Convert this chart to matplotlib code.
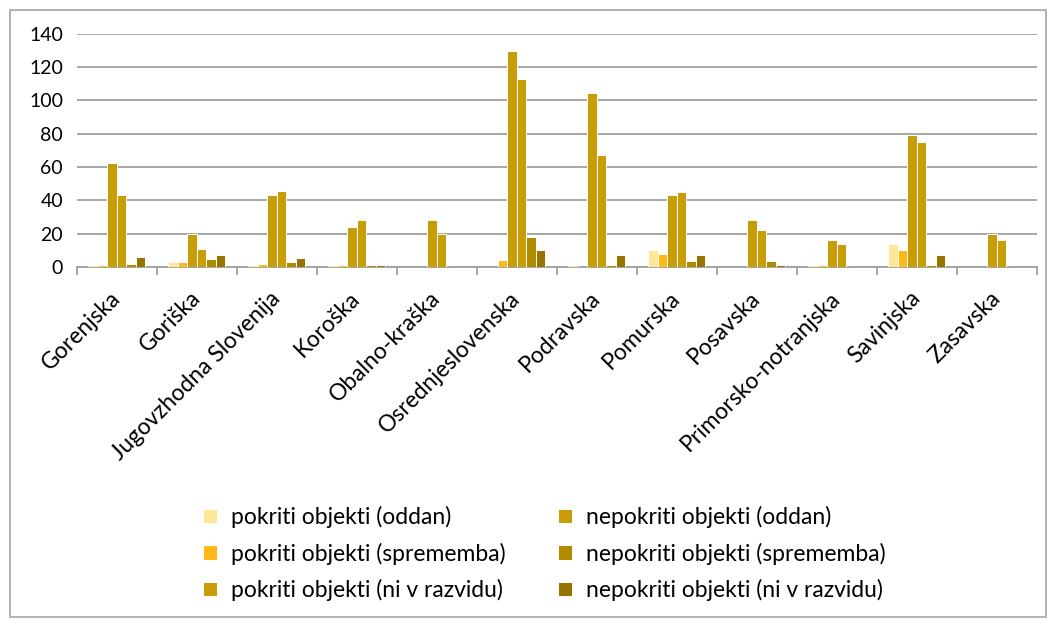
import numpy as np
import matplotlib
matplotlib.use('Agg')
import matplotlib.pyplot as plt
from matplotlib.patches import Rectangle

plt.rcParams['font.family'] = ['Lato', 'DejaVu Sans']

# regije
regije = ['Gorenjska', 'Goriška', 'Jugovzhodna Slovenija', 'Koroška', 'Obalno-kraška',
          'Osrednjeslovenska', 'Podravska', 'Pomurska', 'Posavska',
          'Primorsko-notranjska', 'Savinjska', 'Zasavska']

serije = ['pokriti objekti (oddan)', 'pokriti objekti (sprememba)',
          'pokriti objekti (ni v razvidu)', 'nepokriti objekti (oddan)',
          'nepokriti objekti (sprememba)', 'nepokriti objekti (ni v razvidu)']

pokriti_oddan = [1, 3, 1, 1, 0, 0, 1, 10, 0, 1, 14, 0]
pokriti_sprememba = [1, 3, 2, 1.5, 0, 4, 0, 8, 0, 1, 10, 0]
pokriti_ni_v_razvidu = [62.5, 20, 43, 24, 28.5, 130, 104.5, 43.5, 28.5, 16, 79, 20]
nepokriti_oddan = [43, 11, 45.5, 28.5, 20, 113, 67, 45, 22, 14, 75, 16]
nepokriti_sprememba = [2, 5, 3, 1.5, 0, 18, 1.5, 3.5, 3.5, 0, 1.5, 0]
nepokriti_ni_v_razvidu = [6, 7.5, 5.5, 1.5, 0, 10, 7.5, 7, 1, 0, 7.5, 0]

barve = ['#FFE699', '#FFB915', '#C99D08', '#C99D08', '#B08B00', '#977400']

podatki = [pokriti_oddan, pokriti_sprememba, pokriti_ni_v_razvidu,
           nepokriti_oddan, nepokriti_sprememba, nepokriti_ni_v_razvidu]

fig = plt.figure(figsize=(10.57, 6.27), dpi=100)
ax = fig.add_axes([0.0728, 0.574, 0.908, 0.372])

x = np.arange(len(regije))
w = 0.119
for i, (vals, barva, ime) in enumerate(zip(podatki, barve, serije)):
    ax.bar(x + (i - 2.5) * w, vals, width=w, color=barva, edgecolor='white',
           linewidth=0.7, label=ime, zorder=3)

ax.set_ylim(0, 140)
ax.set_xlim(-0.5, len(regije) - 0.5)
ax.set_yticks(range(0, 141, 20))
ax.yaxis.grid(True, color='#A0A0A0', linewidth=1.3, zorder=0)
ax.set_axisbelow(True)

for s in ['top', 'right', 'left']:
    ax.spines[s].set_visible(False)
ax.spines['bottom'].set_color('#A0A0A0')
ax.spines['bottom'].set_linewidth(1.3)

ax.tick_params(axis='y', length=0, labelsize=14, pad=10)
ax.set_xticks(x)
ax.set_xticklabels(regije, rotation=45, ha='right', va='center',
                   rotation_mode='anchor', fontsize=16.5)
ax.tick_params(axis='x', which='major', length=0, pad=20)
ax.set_xticks(np.arange(-0.5, len(regije), 1), minor=True)
ax.tick_params(axis='x', which='minor', length=6, color='#A0A0A0', width=1.3)

fig.legend(loc='center', bbox_to_anchor=(0.515, 0.117), ncol=2, frameon=False,
           fontsize=16.5, handlelength=0.6, handleheight=0.6, handletextpad=0.6,
           labelspacing=0.63, columnspacing=2.3)

fig.patches.append(Rectangle((10 / 1057, 10 / 627), 1036 / 1057, 607 / 627,
                             transform=fig.transFigure, fill=False,
                             edgecolor='#A6A6A6', linewidth=1.2))

fig.savefig('out.png', dpi=100)
